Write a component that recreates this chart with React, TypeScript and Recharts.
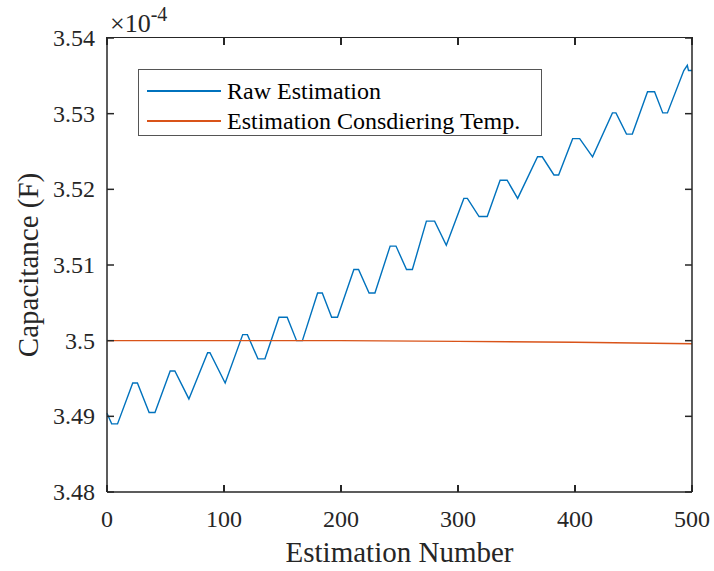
import { Legend, Line, LineChart, XAxis, YAxis } from "recharts";

// values (y in units of 1e-4 F)
const rawN = [0, 4, 9, 22, 26, 36, 41, 54, 58, 70, 86, 88, 101, 116, 120, 129, 135, 147, 154, 162, 167, 180, 184, 192, 197, 211, 215, 224, 229, 242, 247, 256, 261, 273, 280, 290, 305, 308, 318, 325, 336, 342, 351, 368, 372, 382, 386, 398, 404, 415, 432, 435, 444, 449, 462, 468, 475, 479, 493, 496, 497, 500];
const rawV = [3.4904, 3.489, 3.489, 3.4944, 3.4944, 3.4905, 3.4905, 3.496, 3.496, 3.4923, 3.4984, 3.4984, 3.4944, 3.5008, 3.5008, 3.4976, 3.4976, 3.5031, 3.5031, 3.5, 3.5, 3.5063, 3.5063, 3.5031, 3.5031, 3.5094, 3.5094, 3.5063, 3.5063, 3.5125, 3.5125, 3.5094, 3.5094, 3.5158, 3.5158, 3.5126, 3.5188, 3.5188, 3.5164, 3.5164, 3.5212, 3.5212, 3.5188, 3.5243, 3.5243, 3.5219, 3.5219, 3.5267, 3.5267, 3.5243, 3.5301, 3.5301, 3.5273, 3.5273, 3.5329, 3.5329, 3.5301, 3.5301, 3.5357, 3.5364, 3.5357, 3.5357];

const tempN = [0, 100, 200, 300, 400, 500];
const tempV = [3.5, 3.5, 3.5, 3.4999, 3.4998, 3.4996];

const xTicks = [0, 100, 200, 300, 400, 500];
const yTicks = [3.48, 3.49, 3.5, 3.51, 3.52, 3.53, 3.54];
const yMin = 3.48;
const yMax = 3.54;

const rawData = rawN.map((n, i) => ({ n, v: rawV[i] }));
const tempData = tempN.map((n, i) => ({ n, v: tempV[i] }));

const FONT = '"Liberation Serif", "Times New Roman", serif';
const AXIS = "#262626";
const BLUE = "#0072BD";
const ORANGE = "#D95319";

// plot box in page pixels (margins below give the same box)
const BOX = { left: 107, top: 38, width: 585, height: 454 };

const yFmt = (v: number) => String(parseFloat(v.toFixed(2)));

const XTick = (props: any) => (
	<text x={props.x} y={527} textAnchor="middle" fill={AXIS} fontSize={24} style={{ fontFamily: FONT }}>{props.payload.value}</text>
)

const YTick = (props: any) => (
	<text x={95} y={props.y} dy={8} textAnchor="end" fill={AXIS} fontSize={24} style={{ fontFamily: FONT }}>{yFmt(props.payload.value)}</text>
)

const NoTick = () => <g />

const tickLine = { stroke: AXIS, strokeWidth: 1.5 };

const LegendBox = () => (
	<div style={{ position: 'relative', width: 404, height: 67, boxSizing: 'border-box', border: '1px solid #555', background: '#fff', fontFamily: FONT, fontSize: 24, color: '#000' }}>
		{[{ name: 'Raw Estimation', color: BLUE, y: 21 }, { name: 'Estimation Consdiering Temp.', color: ORANGE, y: 51 }].map(row => (
			<div key={row.name}>
				<div style={{ position: 'absolute', left: 8, top: row.y - 1, width: 74, height: 1.5, background: row.color }} />
				<div style={{ position: 'absolute', left: 88, top: row.y - 15, lineHeight: '30px', whiteSpace: 'nowrap' }}>{row.name}</div>
			</div>
		))}
	</div>
)

export default function App() {
	return (
		<div style={{ position: 'absolute', left: 0, top: 0, width: 714, height: 571, background: '#fff', fontFamily: FONT }}>
			<LineChart width={714} height={571} margin={{ top: 38, right: 20, bottom: 0, left: 0 }}>
				<XAxis dataKey="n" type="number" domain={[0, 500]} ticks={xTicks}
					height={79} tickSize={-7} stroke={AXIS} strokeWidth={1.5} tickLine={tickLine}
					tick={<XTick />}
					label={(props: any) => {
						const vb = props.viewBox;
						return <text x={vb.x + vb.width / 2} y={vb.y + 70} textAnchor="middle" fill={AXIS} fontSize={29} style={{ fontFamily: FONT }}>Estimation Number</text>
					}} />
				<YAxis type="number" domain={[yMin, yMax]} ticks={yTicks}
					width={107} tickSize={-7} stroke={AXIS} strokeWidth={1.5} tickLine={tickLine}
					tick={<YTick />}
					label={(props: any) => {
						const vb = props.viewBox;
						const cy = vb.y + vb.height / 2;
						return <text x={28} y={cy} transform={`rotate(-90, 28, ${cy})`} textAnchor="middle" dominantBaseline="central" fill={AXIS} fontSize={29} style={{ fontFamily: FONT }}>Capacitance (F)</text>
					}} />
				<YAxis yAxisId="right" orientation="right" type="number" domain={[yMin, yMax]} ticks={yTicks}
					width={2} tickSize={-7} tick={<NoTick />} stroke={AXIS} strokeWidth={1.5} tickLine={tickLine} />
				<Legend layout="vertical" align="center" verticalAlign="middle" content={() => <LegendBox />}
					wrapperStyle={{ position: 'absolute', left: 138, top: 69, width: 404 }} />
				<Line data={rawData} dataKey="v" name="Raw Estimation" type="linear" stroke={BLUE} strokeWidth={1.4} dot={false} isAnimationActive={false} />
				<Line data={tempData} dataKey="v" yAxisId="right" name="Estimation Consdiering Temp." type="linear" stroke={ORANGE} strokeWidth={1.4} dot={false} isAnimationActive={false} />
			</LineChart>
			{/* top edge of the box with its inward ticks, and inward ticks on the bottom edge */}
			<div style={{ position: 'absolute', left: BOX.left, top: BOX.top - 1, width: BOX.width, height: 0, borderTop: `1.5px solid ${AXIS}` }} />
			{xTicks.map(t => {
				const left = BOX.left + (t / 500) * BOX.width - 0.75;
				return (
					<div key={t}>
						<div style={{ position: 'absolute', left, top: BOX.top - 1, width: 1.5, height: 8, background: AXIS }} />
						<div style={{ position: 'absolute', left, top: BOX.top + BOX.height - 7, width: 1.5, height: 7, background: AXIS }} />
					</div>
				)
			})}
			<div style={{ position: 'absolute', left: 110, top: 4, fontFamily: FONT, fontSize: 26, color: AXIS, whiteSpace: 'nowrap' }}>
				×10<sup style={{ fontSize: 20, position: 'relative', top: -1 }}>-4</sup>
			</div>
		</div>
	)
}
